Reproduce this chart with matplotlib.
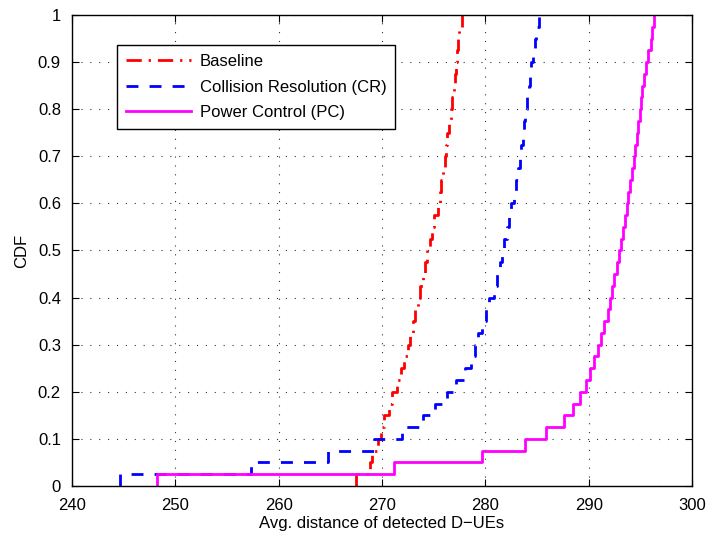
import numpy as np
import matplotlib
matplotlib.use("Agg")
import matplotlib.pyplot as plt

plt.rcParams['font.family'] = ['Liberation Sans', 'DejaVu Sans']

# sorted per-run averages (40 runs each), plotted as empirical CDFs
baseline = [267.5, 268.8, 269.0, 269.6, 269.9, 270.2, 270.7, 271.0, 271.5, 271.8,
            272.1, 272.5, 272.7, 273.0, 273.2, 273.5, 273.7, 274.0, 274.2, 274.4,
            274.6, 274.8, 275.0, 275.4, 275.6, 275.7, 275.9, 276.1, 276.2, 276.3,
            276.5, 276.7, 276.8, 277.0, 277.1, 277.2, 277.3, 277.4, 277.5, 277.7]
collision_res = [244.6, 257.3, 264.8, 269.2, 271.9, 274.0, 275.1, 276.3, 277.2, 278.0,
                 278.6, 279.0, 279.3, 279.7, 280.1, 280.4, 280.8, 281.1, 281.4, 281.6,
                 281.8, 282.1, 282.3, 282.5, 282.8, 283.0, 283.2, 283.35, 283.45, 283.6,
                 283.7, 283.85, 284.0, 284.2, 284.3, 284.45, 284.65, 284.8, 284.95, 285.2]
power_ctrl = [248.2, 271.2, 279.7, 283.8, 285.9, 287.6, 288.5, 289.2, 289.7, 290.1,
              290.56, 290.95, 291.2, 291.5, 291.85, 292.1, 292.3, 292.5, 292.7, 292.95,
              293.15, 293.3, 293.5, 293.7, 293.85, 294.0, 294.2, 294.35, 294.5, 294.7,
              294.8, 295.0, 295.1, 295.2, 295.4, 295.55, 295.7, 296.0, 296.1, 296.3]

labels = ['Baseline', 'Collision Resolution (CR)', 'Power Control (PC)']
colors = ['#ff0000', '#0000ff', '#ff00ff']
styles = [(0, (5.5, 2.5, 0.8, 2.5)), (0, (4.3, 4)), '-']

xticks = [240, 250, 260, 270, 280, 290, 300]
yticks = [0, 0.1, 0.2, 0.3, 0.4, 0.5, 0.6, 0.7, 0.8, 0.9, 1]
ytick_labels = ['0', '0.1', '0.2', '0.3', '0.4', '0.5', '0.6', '0.7', '0.8', '0.9', '1']


def cdf_steps(samples):
    x = np.sort(np.asarray(samples, dtype=float))
    n = len(x)
    y = np.arange(0, n + 1) / n
    return np.r_[x[0], x], y


fig = plt.figure(figsize=(7.1, 5.41), dpi=100)
ax = fig.add_axes([0.1014, 0.1017, 0.8732, 0.8706])

for data, lab, col, ls in zip([baseline, collision_res, power_ctrl], labels, colors, styles):
    xs, ys = cdf_steps(data)
    ax.step(xs, ys, where='post', color=col, linestyle=ls, linewidth=2, label=lab)

ax.set_xlim(240, 300)
ax.set_ylim(0, 1)
ax.set_xticks(xticks)
ax.set_yticks(yticks)
ax.set_yticklabels(ytick_labels)
ax.tick_params(direction='in', top=True, right=True, length=5, labelsize=12)
ax.tick_params(axis='x', pad=9)
ax.tick_params(axis='y', pad=8)
ax.grid(True, linestyle=(0, (1, 7)), color='black', linewidth=0.8, alpha=0.8)
for sp in ax.spines.values():
    sp.set_linewidth(1.0)

ax.set_xlabel('Avg. distance of detected D\u2212UEs', fontsize=12, labelpad=2)
ax.set_ylabel('CDF', fontsize=12, labelpad=6)

leg = ax.legend(loc='upper left', bbox_to_anchor=(0.0726, 0.936), borderaxespad=0,
                fontsize=12, frameon=True, fancybox=False, edgecolor='black',
                framealpha=1, handlelength=3.9, handletextpad=0.5, borderpad=0.55,
                labelspacing=0.62)
leg.get_frame().set_linewidth(1.0)

fig.savefig('out.png', dpi=100)
